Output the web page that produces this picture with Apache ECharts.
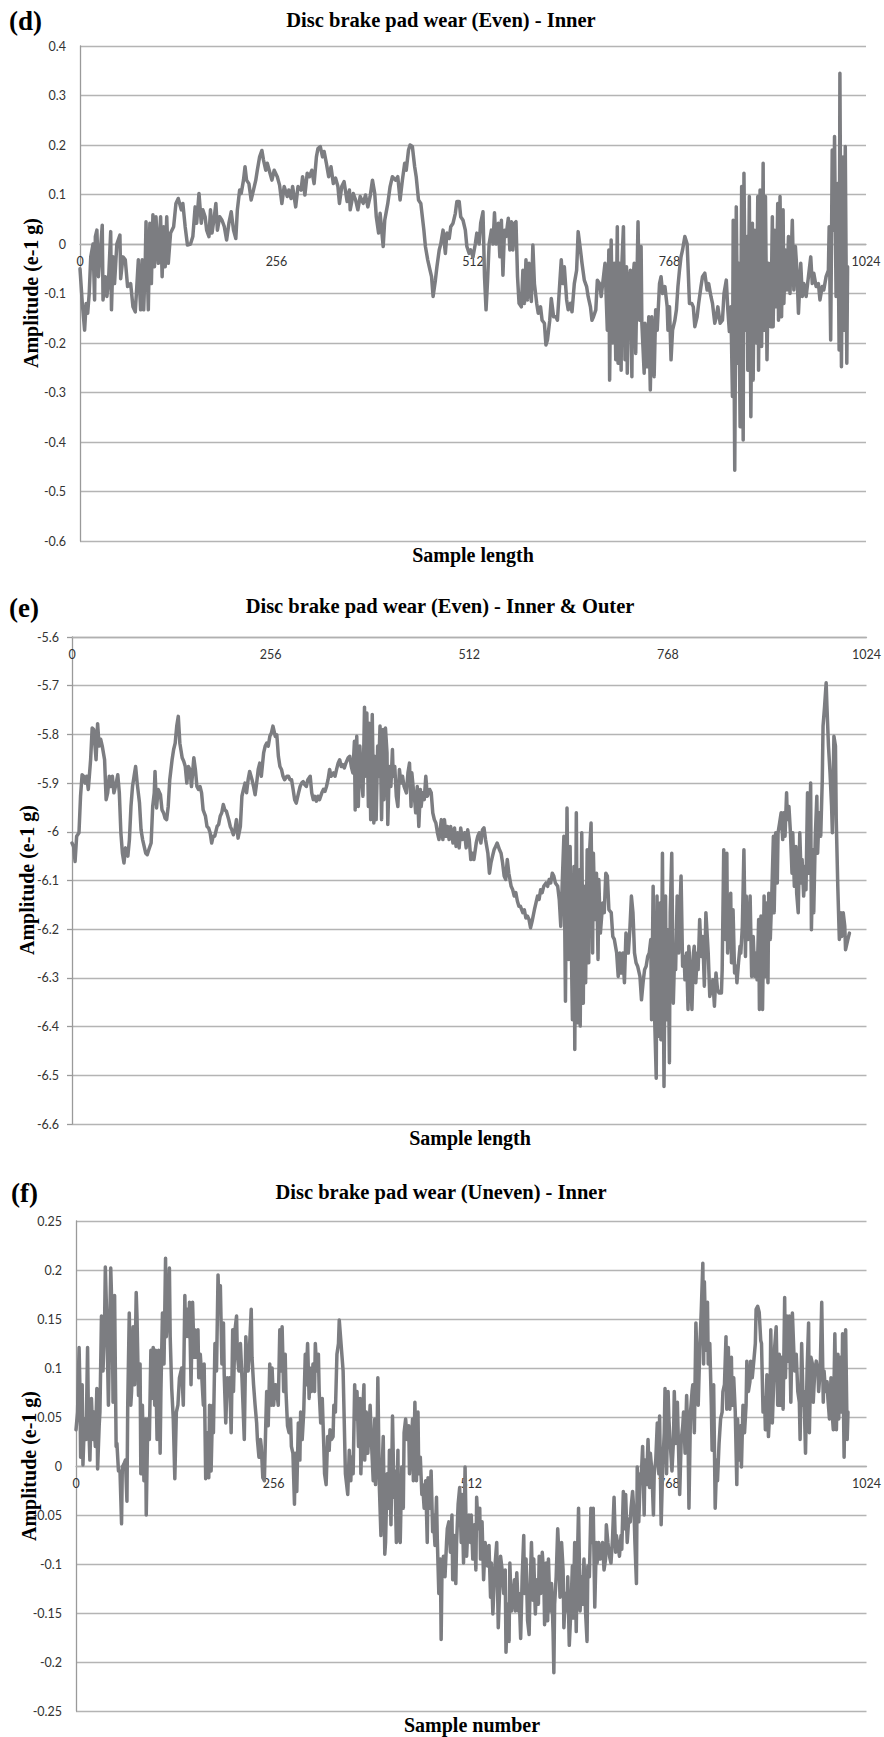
<!DOCTYPE html>
<html><head><meta charset="utf-8">
<script src="https://cdn.jsdelivr.net/npm/echarts@6/dist/echarts.min.js"></script>
<style>html,body{margin:0;padding:0;background:#fff}#c{width:884px;height:1737px}</style>
</head><body><div id="c"></div>
<script>
const xTicks = [0, 256, 512, 768, 1024];
const panelLabels = ['(d)', '(e)', '(f)'];
const chartTitles = ['Disc brake pad wear (Even) - Inner', 'Disc brake pad wear (Even) - Inner & Outer', 'Disc brake pad wear (Uneven) - Inner'];
const xAxisTitles = ['Sample length', 'Sample length', 'Sample number'];
const yAxisTitle = 'Amplitude (e-1 g)';
const yRanges = [[-0.6, 0.4, 0.1], [-6.6, -5.6, 0.1], [-0.25, 0.25, 0.05]];

const dInner = [[0,-0.05],[3,-0.12],[6,-0.174],[8,-0.12],[10,-0.14],[12,-0.1],[14,-0.026],[17,0],[19,-0.113],[20,0.015],[22,0.028],[24,-0.066],[29,0.038],[30,-0.113],[33,-0.066],[35,-0.106],[37,-0.08],[40,0.025],[41,-0.133],[43,-0.026],[45,-0.08],[48,0],[52,0.018],[53,-0.07],[56,-0.026],[59,-0.032],[62,-0.086],[66,-0.08],[69,-0.127],[72,-0.137],[74,-0.086],[76,-0.032],[79,-0.133],[81,-0.032],[83,-0.133],[85,-0.039],[86,0.045],[89,-0.133],[91,0.042],[93,-0.08],[95,0.059],[97,-0.046],[99,0.055],[102,-0.039],[105,0.055],[107,-0.066],[109,0.035],[111,-0.046],[113,0.055],[115,-0.039],[118,0.022],[122,0.035],[125,0.082],[128,0.092],[132,0.069],[134,0.082],[137,0.035],[140,-0.002],[144,0],[147,0.015],[150,0.075],[152,0.042],[155,0.102],[158,0.042],[160,0.069],[163,0.055],[165,0.028],[168,0.015],[170,0.069],[172,0.022],[175,0.055],[177,0.082],[179,0.028],[182,0.055],[185,0.048],[188,0.035],[191,0.008],[194,0.042],[197,0.065],[200,0.028],[203,0.011],[205,0.069],[208,0.109],[210,0.102],[213,0.129],[215,0.156],[217,0.129],[220,0.122],[223,0.089],[226,0.109],[229,0.129],[231,0.149],[234,0.176],[237,0.189],[239,0.17],[242,0.149],[244,0.163],[247,0.146],[250,0.129],[253,0.149],[257,0.136],[260,0.119],[263,0.082],[266,0.116],[270,0.096],[272,0.109],[275,0.092],[277,0.116],[281,0.075],[284,0.116],[288,0.109],[290,0.136],[293,0.099],[296,0.143],[299,0.136],[302,0.149],[305,0.122],[308,0.176],[310,0.193],[313,0.197],[316,0.176],[318,0.187],[321,0.163],[324,0.136],[327,0.156],[330,0.122],[333,0.133],[336,0.116],[338,0.082],[341,0.116],[344,0.126],[348,0.086],[351,0.109],
[352,0.069],[356,0.102],[359,0.089],[362,0.069],[365,0.096],[369,0.082],[372,0.099],[375,0.075],[378,0.096],[381,0.129],[384,0.102],[386,0.055],[389,0.022],[391,0.062],[395,-0.005],[397,0.048],[401,0.082],[404,0.116],[407,0.136],[411,0.129],[414,0.136],[417,0.089],[420,0.129],[423,0.163],[425,0.149],[428,0.19],[430,0.2],[433,0.197],[436,0.156],[438,0.136],[441,0.089],[444,0.082],[446,0.055],[448,0.028],[450,-0.005],[453,-0.032],[456,-0.053],[458,-0.066],[460,-0.106],[463,-0.073],[465,-0.046],[468,-0.012],[470,0],[473,0.028],[476,-0.019],[478,0.022],[481,0.011],[483,0.035],[486,0.042],[489,0.062],[491,0.086],[494,0.086],[496,0.055],[499,0.048],[502,0.028],[504,-0.005],[507,-0.019],[509,-0.012],[512,-0.026],[515,0],[517,0.022],[520,0],[522,0.042],[525,0.065],[527,-0.066],[529,-0.133],[531,-0.073],[533,0],[536,0.028],[538,0],[540,0.063],[542,0],[545,0.042],[547,-0.026],[549,0.048],[551,-0.063],[553,0.028],[555,0.015],[558,0.052],[560,-0.012],[562,0.045],[564,-0.012],[566,0.042],[568,0.045],[570,-0.066],[572,-0.12],[575,-0.127],[577,-0.053],[579,-0.12],[581,-0.032],[583,-0.113],[585,-0.039],[588,-0.116],[590,-0.002],[592,-0.08],[595,-0.12],[597,-0.14],[600,-0.127],[602,-0.154],[605,-0.16],[607,-0.204],[609,-0.194],[612,-0.154],[614,-0.11],[617,-0.147],[620,-0.147],[622,-0.154],[625,-0.08],[627,-0.032],[629,-0.08],[631,-0.046],[634,-0.113],[636,-0.133],[639,-0.12],[641,-0.137],[644,-0.08],[647,-0.053],[649,0.025],[652,-0.012],[654,-0.039],[657,-0.073],[660,-0.086],[662,-0.106],[665,-0.127],[667,-0.154],[669,-0.147],[672,-0.133],[674,-0.073],[677,-0.08],[679,-0.106],[682,-0.066],[684,-0.039],[687,-0.174],[689,-0.012],[690,-0.275],[692,0.008],[694,-0.2],[696,-0.039],[698,-0.234],[700,0.035],[701,-0.241],[703,-0.039],
[705,-0.255],[706,-0.039],[708,0.035],[710,-0.234],[712,-0.046],[713,-0.261],[715,-0.08],[717,-0.053],[719,-0.268],[720,-0.08],[722,-0.039],[724,-0.221],[726,-0.039],[727,0.045],[729,-0.154],[731,-0.005],[732,-0.16],[735,-0.261],[736,-0.16],[739,-0.248],[741,-0.147],[743,-0.295],[745,-0.147],[748,-0.268],[750,-0.133],[752,-0.174],[755,-0.08],[757,-0.066],[759,-0.1],[762,-0.086],[765,-0.127],[766,-0.174],[768,-0.127],[770,-0.234],[772,-0.174],[775,-0.154],[777,-0.133],[779,-0.086],[781,-0.053],[783,-0.026],[785,-0.012],[788,0.015],[791,0],[792,-0.039],[794,-0.12],[797,-0.12],[799,-0.127],[801,-0.167],[804,-0.147],[806,-0.12],[809,-0.086],[811,-0.066],[814,-0.059],[817,-0.093],[819,-0.08],[822,-0.106],[824,-0.12],[827,-0.16],[829,-0.147],[831,-0.127],[834,-0.16],[837,-0.154],[839,-0.1],[842,-0.073],[844,-0.133],[846,-0.177],[848,-0.127],[850,-0.308],[851,0.048],[853,-0.457],[855,0.075],[857,-0.241],[858,-0.039],[860,-0.369],[862,0.116],[864,-0.396],[865,0.143],[867,-0.174],[869,0.015],[870,-0.255],[872,0.096],[874,-0.349],[876,0.042],[877,-0.275],[879,0.028],[881,-0.2],[883,0.096],[884,-0.255],[886,0.109],[888,-0.207],[890,0.163],[891,-0.174],[893,0.096],[895,-0.234],[897,-0.039],[900,-0.167],[902,0.055],[903,-0.167],[905,0.028],[907,-0.127],[909,0.082],[910,-0.154],[912,0.096],[914,-0.147],[916,0.069],[917,-0.12],[919,-0.012],[921,-0.093],[923,0.015],[925,-0.1],[928,0.048],[930,-0.093],[932,-0.005],[934,-0.053],[936,-0.14],[939,-0.039],[941,-0.106],[943,-0.08],[946,-0.106],[949,-0.066],[952,-0.026],[954,-0.08],[956,-0.059],[959,-0.086],[962,-0.08],[964,-0.113],[967,-0.086],[969,-0.093],[972,-0.066],[975,-0.053],[976,0.035],[978,-0.194],[980,0.19],[982,0.028],[983,0.217],[985,-0.106],[987,0.122],[989,-0.214],[990,0.345],[992,-0.248],[994,0.176],[995,-0.174],[997,0.197],[999,-0.241],[1000,-0.046]];

const eInnerOuter = [[0,-6.023],[2,-6.03],[4,-6.061],[6,-6.009],[9,-6.002],[11,-5.927],[13,-5.883],[15,-5.886],[17,-5.9],[19,-5.886],[21,-5.913],[24,-5.852],[26,-5.787],[28,-5.79],[30,-5.831],[31,-5.852],[33,-5.778],[35,-5.824],[37,-5.81],[39,-5.824],[42,-5.852],[44,-5.934],[46,-5.92],[48,-5.886],[50,-5.907],[52,-5.886],[54,-5.92],[57,-5.9],[59,-5.883],[61,-5.92],[63,-6.002],[65,-6.044],[67,-6.064],[69,-6.033],[72,-6.05],[74,-6.016],[76,-5.948],[78,-5.907],[80,-5.886],[82,-5.866],[84,-5.9],[87,-5.941],[89,-5.996],[91,-6.016],[93,-6.03],[95,-6.044],[97,-6.047],[99,-6.037],[102,-6.023],[104,-5.948],[106,-5.92],[107,-5.876],[109,-5.951],[111,-5.913],[114,-5.924],[116,-5.955],[118,-5.961],[120,-5.972],[122,-5.975],[124,-5.948],[126,-5.893],[129,-5.852],[131,-5.831],[133,-5.818],[135,-5.783],[137,-5.763],[139,-5.818],[142,-5.848],[144,-5.855],[146,-5.866],[148,-5.9],[150,-5.866],[152,-5.872],[154,-5.907],[157,-5.848],[159,-5.872],[161,-5.907],[163,-5.913],[165,-5.907],[167,-5.92],[169,-5.955],[172,-5.968],[174,-5.989],[176,-5.992],[178,-6.002],[180,-6.023],[182,-6.009],[184,-6.009],[187,-5.989],[189,-5.985],[191,-5.968],[193,-5.961],[195,-5.944],[197,-5.955],[199,-5.958],[202,-5.975],[204,-5.989],[206,-5.996],[208,-6.006],[210,-5.996],[212,-5.975],[214,-6.013],[217,-5.989],[219,-5.927],[221,-5.913],[223,-5.9],[225,-5.92],[227,-5.893],[229,-5.876],[232,-5.893],[234,-5.907],[236,-5.924],[238,-5.9],[240,-5.872],[242,-5.859],[244,-5.886],[247,-5.838],[249,-5.824],[251,-5.818],[253,-5.824],[255,-5.804],[257,-5.797],[259,-5.783],[262,-5.804],[264,-5.801],[266,-5.845],[268,-5.866],[270,-5.872],[272,-5.886],[274,-5.893],[277,-5.886],[279,-5.886],[281,-5.893],[283,-5.893],[285,-5.913],[287,-5.934],[289,-5.941],[292,-5.92],[294,-5.907],[296,-5.9],[298,-5.897],[300,-5.903],[302,-5.907],[304,-5.893],[307,-5.886],[309,-5.92],[311,-5.934],[313,-5.927],[315,-5.937],[317,-5.927],[319,-5.934],[322,-5.92],[324,-5.913],[326,-5.917],[328,-5.907],[330,-5.893],[332,-5.872],[334,-5.886],[337,-5.879],[339,-5.886],[341,-5.872],[343,-5.859],[345,-5.852],
[347,-5.866],[349,-5.862],[351,-5.869],[353,-5.859],[356,-5.848],[358,-5.845],[360,-5.866],[362,-5.879],[364,-5.814],[365,-5.955],[367,-5.804],[369,-5.948],[371,-5.824],[373,-5.886],[375,-5.927],[377,-5.744],[378,-5.886],[380,-5.756],[382,-5.948],[383,-5.777],[385,-5.975],[387,-5.759],[389,-5.982],[390,-5.845],[392,-5.975],[394,-5.824],[395,-5.886],[397,-5.783],[399,-5.975],[401,-5.79],[402,-5.934],[404,-5.787],[406,-5.838],[407,-5.985],[409,-5.866],[411,-5.907],[413,-5.831],[414,-5.886],[416,-5.866],[418,-5.927],[420,-5.948],[422,-5.872],[424,-5.9],[426,-5.886],[428,-5.907],[431,-5.92],[433,-5.879],[435,-5.859],[437,-5.948],[438,-5.879],[440,-5.913],[442,-5.941],[443,-5.961],[445,-5.907],[447,-5.989],[449,-5.913],[450,-5.948],[452,-5.92],[454,-5.934],[456,-5.886],[458,-5.927],[461,-5.913],[463,-5.92],[465,-5.961],[467,-5.975],[469,-5.982],[471,-6.002],[473,-6.016],[476,-5.975],[478,-6.016],[480,-5.975],[482,-6.009],[484,-5.989],[486,-6.016],[488,-5.989],[491,-6.023],[493,-5.992],[495,-6.03],[497,-6.002],[499,-6.033],[501,-5.992],[503,-6.016],[506,-6.002],[508,-6.033],[510,-5.996],[512,-6.016],[514,-6.057],[516,-6.044],[518,-6.057],[521,-6.023],[523,-6.009],[525,-6.002],[527,-6.023],[529,-5.996],[531,-5.992],[533,-6.016],[536,-6.044],[538,-6.085],[540,-6.064],[542,-6.05],[544,-6.037],[546,-6.03],[548,-6.023],[551,-6.037],[553,-6.044],[555,-6.064],[557,-6.091],[559,-6.098],[561,-6.057],[563,-6.085],[566,-6.112],[568,-6.119],[570,-6.132],[572,-6.125],[574,-6.142],[576,-6.153],[578,-6.153],[581,-6.166],[583,-6.16],[585,-6.177],[587,-6.173],[589,-6.18],[591,-6.197],[593,-6.184],[596,-6.16],[598,-6.146],[600,-6.132],[602,-6.139],[604,-6.119],[606,-6.125],[608,-6.112],[611,-6.105],[613,-6.112],[615,-6.098],[617,-6.105],[619,-6.085],[621,-6.091],[623,-6.105],[626,-6.112],[628,-6.139],[630,-6.194],[632,-6.098],[634,-6.009],[636,-6.348],[638,-5.951],[640,-6.262],[642,-6.03],[643,-6.18],[645,-6.386],[647,-6.071],[648,-6.447],[650,-5.961],[652,-6.392],[654,-6.078],[655,-6.399],[657,-6.002],[659,-6.352],[660,-6.112],[662,-6.31],[664,-6.037],[666,-6.269],[667,-6.044],[669,-5.982],[671,-6.249],[672,-6.044],[674,-6.18],[676,-6.085],[678,-6.262],[679,-6.098],[681,-6.208],[684,-6.146],[686,-6.166],[688,-6.085],[690,-6.091],[692,-6.16],
[695,-6.166],[697,-6.215],[699,-6.221],[702,-6.249],[704,-6.297],[706,-6.249],[708,-6.29],[710,-6.249],[712,-6.31],[714,-6.208],[717,-6.249],[719,-6.201],[721,-6.132],[723,-6.166],[725,-6.249],[727,-6.269],[729,-6.276],[732,-6.297],[734,-6.345],[736,-6.31],[738,-6.283],[740,-6.276],[742,-6.256],[744,-6.249],[746,-6.221],[747,-6.386],[749,-6.112],[751,-6.386],[753,-6.506],[754,-6.132],[756,-6.42],[758,-6.146],[759,-6.427],[761,-6.044],[763,-6.523],[765,-6.132],[766,-6.386],[768,-6.201],[770,-6.474],[771,-6.166],[773,-6.044],[775,-6.352],[777,-6.235],[778,-6.283],[780,-6.132],[782,-6.249],[783,-6.187],[785,-6.091],[787,-6.276],[789,-6.256],[790,-6.304],[792,-6.249],[794,-6.365],[795,-6.235],[797,-6.283],[799,-6.365],[801,-6.249],[802,-6.235],[804,-6.31],[806,-6.249],[807,-6.283],[809,-6.18],[811,-6.256],[813,-6.215],[815,-6.317],[817,-6.166],[819,-6.221],[820,-6.249],[822,-6.338],[824,-6.324],[826,-6.304],[828,-6.358],[830,-6.29],[832,-6.324],[834,-6.331],[837,-6.331],[838,-6.283],[840,-6.037],[842,-6.221],[844,-6.044],[845,-6.249],[847,-6.18],[849,-6.126],[850,-6.269],[852,-6.16],[854,-6.29],[856,-6.276],[857,-6.31],[859,-6.269],[861,-6.235],[862,-6.249],[864,-6.194],[866,-6.037],[868,-6.256],[869,-6.132],[871,-6.221],[873,-6.194],[874,-6.132],[876,-6.297],[878,-6.215],[880,-6.297],[881,-6.249],[883,-6.304],[885,-6.18],[886,-6.365],[888,-6.173],[890,-6.365],[892,-6.132],[893,-6.297],[895,-6.146],[897,-6.31],[898,-6.126],[900,-6.221],[902,-6.126],[904,-6.009],[905,-6.166],[907,-6.002],[909,-6.105],[910,-6.002],[912,-5.982],[914,-5.961],[916,-6.016],[917,-5.961],[919,-6.009],[921,-5.92],[922,-5.975],[924,-5.948],[926,-6.002],[928,-6.085],[929,-6.002],[931,-6.112],[933,-6.03],[934,-6.126],[936,-6.166],[938,-6.002],[940,-6.105],[941,-6.057],[943,-6.132],[945,-6.071],[946,-6.119],[948,-5.92],[950,-6.085],[952,-5.9],[953,-6.201],[955,-6.037],[956,-6.166],[958,-6.009],[960,-5.927],[961,-6.044],[963,-5.961],[965,-6.009],[967,-5.893],[968,-5.783],[970,-5.742],[972,-5.694],[973,-5.742],[975,-5.824],[977,-5.879],[979,-5.948],[980,-6.002],[982,-5.804],[984,-5.824],[985,-5.975],[987,-6.112],[989,-6.221],[991,-6.166],[992,-6.215],[994,-6.166],[996,-6.194],[997,-6.242],[1000,-6.221],[1002,-6.208]];

const fUnevenInner = [[0,0.037],[2,0.055],[4,0.121],[5,0.083],[6,0.009],[8,0.083],[9,0.001],[11,0.048],[13,0.027],[15,0.121],[16,0.055],[18,0.006],[20,0.069],[22,0.027],[23,0.055],[25,0.02],[27,0.079],[28,-0.003],[30,0.041],[31,0.055],[33,0.153],[35,0.097],[37,0.146],[38,0.203],[40,0.146],[42,0.062],[44,0.156],[45,0.202],[47,0.146],[48,0.065],[50,0.174],[52,0.02],[53,0.023],[55,-0.005],[57,-0.005],[59,-0.059],[60,-0.001],[62,0.002],[64,0.006],[66,-0.036],[67,0.062],[69,0.156],[71,0.062],[72,0.076],[74,0.142],[76,0.083],[78,0.177],[79,0.153],[81,0.072],[83,0.104],[84,-0.008],[86,0.062],[88,-0.015],[90,0.048],[91,-0.05],[93,0.048],[95,0.027],[97,0.118],[98,0.069],[100,0.121],[102,0.062],[103,0.118],[105,0.027],[107,0.118],[109,0.013],[110,0.076],[112,0.156],[114,0.104],[116,0.212],[117,0.132],[119,0.156],[121,0.202],[122,0.132],[124,0.079],[126,0.048],[128,-0.013],[130,0.055],[132,0.062],[134,0.09],[137,0.1],[139,0.062],[141,0.174],[142,0.132],[144,0.16],[146,0.132],[147,0.167],[149,0.083],[151,0.167],[153,0.111],[154,0.139],[156,0.111],[158,0.139],[159,0.09],[161,0.114],[163,0.09],[165,0.062],[166,0.104],[168,-0.013],[170,0.034],[172,-0.012],[173,0.062],[175,-0.005],[177,0.062],[178,0.034],[180,0.125],[182,0.097],[184,0.195],[185,0.167],[187,0.184],[189,0.104],[191,0.146],[192,0.093],[194,0.044],[196,0.09],[197,0.076],[199,0.09],[201,0.034],[203,0.139],[204,0.076],[206,0.139],[208,0.153],[209,0.114],[211,0.097],[213,0.125],[215,0.09],[216,0.069],[218,0.027],[220,0.132],[222,0.097],[223,0.097],[225,0.125],[227,0.16],[228,0.111],[230,0.083],[232,0.062],[234,0.044],[235,0.027],[237,0.009],[239,0.027],[240,0.02],[242,-0.012],[244,-0.015],[246,0.048],[247,0.076],[249,0.041],[251,0.104],[253,0.062],[254,0.1],[256,0.062],[258,0.083],[259,0.083],[262,0.062],[264,0.139],[265,0.097],[267,0.142],[269,0.076],[271,0.114],[272,0.076],[274,0.041],[276,0.034],[278,0.048],[279,0.02],[281,0.013],[283,-0.039],[284,0.013],[286,-0.026],[288,0.044],[290,0.006],[291,0.055],[293,0.027],[295,0.055],[297,0.114],[298,0.083],[300,0.125],[302,0.069],[303,0.1],[305,0.076],[307,0.104],[309,0.076],[310,0.125],[312,0.097],[314,0.114],[315,0.076],[317,0.044],[319,0.069],[321,0.02],[322,-0.008],[324,-0.019],[326,0.03],[328,0.016],[329,0.037],[331,0.027],[333,0.03],[334,0.062],[336,0.055],[338,0.114],[340,0.125],[341,0.149],
[346,0.097],[349,-0.008],[352,-0.029],[354,0.016],[356,-0.015],[357,0.009],[359,-0.008],[361,0.083],[362,0.048],[364,0.076],[366,0.02],[368,0.069],[369,-0.008],[371,0.048],[373,0.083],[374,0.006],[376,0.055],[378,0.013],[380,0.044],[381,0.062],[383,0.02],[385,-0.015],[387,0.048],[388,-0.019],[390,0.027],[391,0.09],[393,-0.022],[395,-0.071],[396,-0.015],[398,0.03],[400,-0.09],[401,-0.078],[403,-0.008],[405,-0.043],[406,0.016],[408,-0.06],[410,0.051],[412,-0.032],[413,-0.005],[415,-0.078],[417,0.016],[418,-0.074],[420,-0.078],[422,-0.001],[424,-0.043],[425,0.034],[427,0.048],[429,0.027],[431,0.041],[432,-0.008],[434,0.02],[436,0.048],[437,-0.015],[439,0.065],[441,-0.015],[443,0.055],[444,-0.008],[446,0.009],[448,-0.029],[449,-0.019],[451,-0.043],[453,-0.015],[455,-0.078],[456,-0.012],[458,-0.043],[460,-0.005],[462,-0.067],[463,-0.05],[465,-0.081],[467,-0.032],[468,-0.074],[470,-0.13],[472,-0.095],[473,-0.177],[474,-0.113],[476,-0.092],[478,-0.113],[480,-0.078],[481,-0.064],[483,-0.057],[485,-0.088],[487,-0.05],[488,-0.116],[490,-0.071],[492,-0.12],[493,-0.078],[495,-0.039],[497,-0.022],[499,-0.078],[500,-0.029],[502,-0.099],[504,-0.001],[506,-0.092],[507,-0.074],[509,-0.05],[511,-0.078],[512,-0.05],[514,-0.095],[516,-0.06],[518,-0.106],[519,-0.032],[521,-0.064],[523,-0.043],[524,-0.095],[526,-0.057],[528,-0.116],[530,-0.078],[531,-0.085],[533,-0.102],[535,-0.081],[537,-0.134],[538,-0.099],[540,-0.151],[542,-0.113],[543,-0.099],[545,-0.078],[547,-0.165],[549,-0.12],[550,-0.092],[552,-0.106],[554,-0.13],[556,-0.106],[557,-0.19],[559,-0.141],[561,-0.179],[562,-0.099],[564,-0.148],[566,-0.134],[568,-0.116],[569,-0.148],[571,-0.109],[573,-0.148],[574,-0.13],[576,-0.176],[578,-0.113],[580,-0.071],[581,-0.13],[583,-0.095],[585,-0.158],[587,-0.172],[588,-0.13],[590,-0.078],[592,-0.137],[593,-0.095],[595,-0.151],[597,-0.116],[599,-0.141],[600,-0.092],[602,-0.13],[604,-0.088],[606,-0.113],[607,-0.162],[609,-0.099],[611,-0.158],[612,-0.095],[614,-0.148],[616,-0.12],[618,-0.169],[619,-0.211],[620,-0.141],[622,-0.113],[624,-0.064],[625,-0.081],[627,-0.134],[629,-0.078],[631,-0.106],[632,-0.165],[634,-0.13],[636,-0.148],[637,-0.113],[639,-0.183],[641,-0.148],[643,-0.102],[644,-0.155],[646,-0.078],[648,-0.169],[649,-0.113],[651,-0.043],[653,-0.148],[655,-0.113],[656,-0.141],[658,-0.095],[660,-0.148],[662,-0.179],[663,-0.102],[665,-0.113],[667,-0.043],[668,-0.078],[670,-0.043],[672,-0.144],[674,-0.078],[675,-0.099],[677,-0.078],[679,-0.095],[680,-0.092],[682,-0.078],[684,-0.106],[686,-0.095],[687,-0.06],[689,-0.078],[691,-0.092],
[693,-0.099],[695,-0.074],[697,-0.032],[699,-0.088],[700,-0.071],[702,-0.081],[704,-0.092],[706,-0.071],[707,-0.085],[709,-0.026],[711,-0.064],[712,-0.029],[714,-0.078],[716,-0.054],[718,-0.057],[719,-0.043],[721,-0.026],[723,-0.05],[724,-0.078],[726,-0.12],[727,-0.001],[729,-0.057],[731,-0.008],[732,-0.015],[734,0.02],[736,-0.05],[737,0.006],[739,-0.019],[741,0.027],[743,-0.022],[744,0.013],[746,-0.005],[748,-0.05],[749,-0.008],[751,0.006],[753,0.044],[755,-0.008],[756,0.051],[758,-0.06],[760,-0.001],[762,0.034],[763,0.079],[765,-0.008],[767,0.076],[768,0.048],[770,0.02],[772,-0.005],[774,0.027],[775,0.076],[777,0.023],[779,0.065],[780,0.034],[782,-0.029],[784,0.027],[786,0.041],[787,0.055],[789,0.013],[791,0.072],[793,0.02],[794,-0.043],[796,0.055],[798,0.076],[799,0.083],[801,0.034],[803,0.146],[805,0.097],[806,0.062],[808,0.118],[810,0.16],[812,0.207],[813,0.104],[814,0.188],[816,0.118],[818,0.167],[819,0.104],[821,0.125],[823,0.062],[824,0.016],[826,0.083],[828,-0.043],[830,0.006],[831,-0.015],[833,0.023],[835,0.048],[837,0.055],[838,0.076],[840,0.083],[842,0.132],[843,0.058],[845,0.121],[847,0.058],[849,0.111],[850,0.062],[852,0.09],[854,0.055],[856,-0.019],[857,0.048],[859,0.006],[861,0.041],[862,-0.001],[864,0.062],[866,0.034],[868,0.062],[869,0.107],[871,0.076],[873,0.086],[874,0.107],[876,0.09],[878,0.107],[880,0.125],[881,0.16],[883,0.163],[885,0.157],[887,0.128],[888,0.125],[890,0.055],[892,0.069],[893,0.037],[895,0.093],[897,0.03],[899,0.062],[900,0.139],[902,0.044],[904,0.09],[905,0.121],[907,0.142],[909,0.062],[911,0.114],[912,0.062],[914,0.111],[916,0.058],[918,0.172],[919,0.09],[921,0.153],[923,0.107],[924,0.153],[926,0.065],[928,0.156],[930,0.114],[931,0.097],[933,0.114],[935,0.076],[937,0.065],[938,0.027],[940,0.125],[942,0.062],[943,0.076],[945,0.013],[947,0.097],[949,0.146],[950,0.034],[952,0.111],[954,0.104],[955,0.065],[957,0.097],[959,0.107],[961,0.097],[962,0.076],[964,0.097],[966,0.167],[968,0.065],[969,0.097],[971,0.076],[973,0.086],[974,0.069],[976,0.048],[978,0.09],[980,0.048],[981,0.037],[983,0.135],[985,0.037],[987,0.114],[988,0.048],[990,0.111],[992,0.055],[993,0.135],[995,0.009],[997,0.139],[999,0.027],[1000,0.055]];

const seriesData = [dInner, eInnerOuter, fUnevenInner];

const chart = echarts.init(document.getElementById('c'), null, {renderer: 'svg', width: 884, height: 1737});
const serif = '"Liberation Serif", "Times New Roman", serif';
const tickFont = {fontFamily: 'Lato', fontSize: 12.5, color: '#333333'};
const fmt = v => String(Math.round(v * 100) / 100);

const grids = [
  {left: 80, right: 18, top: 46, height: 495},
  {left: 72, right: 15, top: 637, height: 487},
  {left: 76, right: 16, top: 1221, height: 490}
];

const xAxes = grids.map((g, i) => ({
  gridIndex: i, type: 'value',
  min: xTicks[0], max: xTicks[xTicks.length - 1], interval: xTicks[1] - xTicks[0],
  position: i === 1 ? 'top' : 'bottom',
  offset: 0,
  axisLine: {show: true, onZero: false, lineStyle: {color: '#b0b0b0', width: 1.3}},
  axisTick: {show: false},
  splitLine: {show: false},
  axisLabel: Object.assign({}, tickFont, {margin: 11, inside: i === 1, showMinLabel: true, showMaxLabel: true, formatter: v => String(v)})
}));

const yAxes = yRanges.map((r, i) => ({
  gridIndex: i, type: 'value', min: r[0], max: r[1], interval: r[2],
  axisLine: {show: true, onZero: false, lineStyle: {color: '#9a9a9a', width: 1.3}},
  axisTick: {show: i === 1, length: 5, lineStyle: {color: '#9a9a9a', width: 1.3}},
  splitLine: {show: true, lineStyle: {color: '#b4b4b4', width: 1.3}},
  axisLabel: Object.assign({}, tickFont, {margin: i === 1 ? 13 : 14, formatter: fmt})
}));

const series = seriesData.map((d, i) => ({
  type: 'line', xAxisIndex: i, yAxisIndex: i, data: d,
  showSymbol: false, symbol: 'none', silent: true, animation: false,
  lineStyle: {color: '#7c7d81', width: 3.5, join: 'round', cap: 'round'}
}));

const panelPos = [[9, 21], [9, 608], [11, 1193]];
const titlePos = [[441, 20], [440, 606], [441, 1192]];
const xTitlePos = [[473, 555], [470, 1138], [472, 1725]];
const yTitlePos = [[31, 293], [27, 880], [29, 1466]];

const graphic = [];
panelLabels.forEach((t, i) => graphic.push({type: 'text', x: panelPos[i][0], y: panelPos[i][1], silent: true,
  style: {text: t, font: 'bold 27px ' + serif, fill: '#000', textAlign: 'left', textVerticalAlign: 'middle'}}));
chartTitles.forEach((t, i) => graphic.push({type: 'text', x: titlePos[i][0], y: titlePos[i][1], silent: true,
  style: {text: t, font: 'bold 20.5px ' + serif, fill: '#000', textAlign: 'center', textVerticalAlign: 'middle'}}));
xAxisTitles.forEach((t, i) => graphic.push({type: 'text', x: xTitlePos[i][0], y: xTitlePos[i][1], silent: true,
  style: {text: t, font: 'bold 20px ' + serif, fill: '#000', textAlign: 'center', textVerticalAlign: 'middle'}}));
yTitlePos.forEach((p) => graphic.push({type: 'text', x: p[0], y: p[1], rotation: Math.PI / 2, silent: true,
  style: {text: yAxisTitle, font: 'bold 20px ' + serif, fill: '#000', textAlign: 'center', textVerticalAlign: 'middle'}}));

chart.setOption({
  animation: false,
  backgroundColor: '#ffffff',
  grid: grids,
  xAxis: xAxes,
  yAxis: yAxes,
  series: series,
  graphic: graphic
});

// Place the horizontal axes of (d) and (f) on the zero line of their value axis, as in the reference.
const offsets = grids.map((g, i) => {
  if (i === 1) return 0;
  const zeroY = chart.convertToPixel({xAxisIndex: i, yAxisIndex: i}, [0, 0])[1];
  return -((g.top + g.height) - zeroY);
});
chart.setOption({xAxis: offsets.map(o => ({offset: o}))});
</script>
</body></html>
